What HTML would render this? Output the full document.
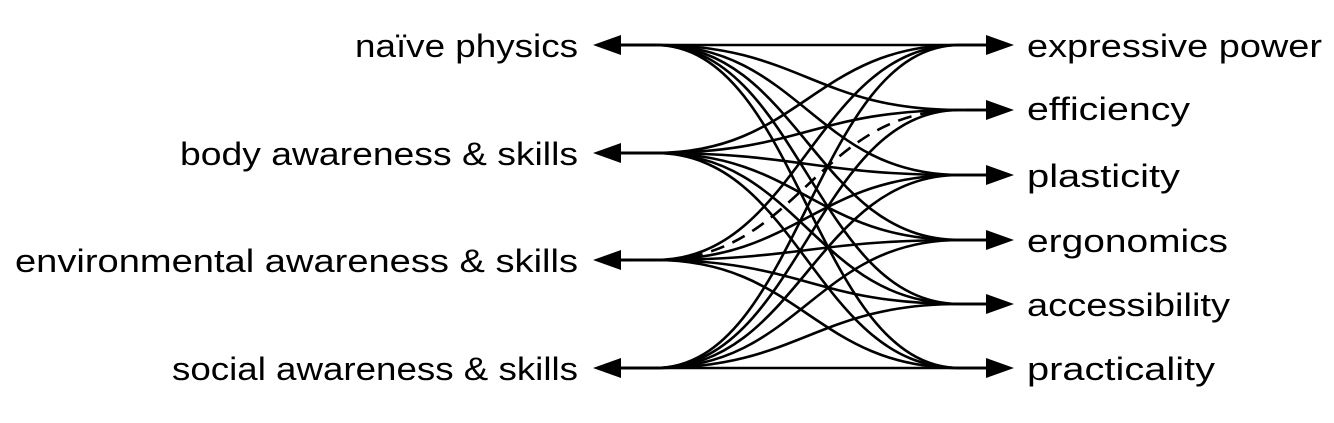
<!DOCTYPE html>
<html><head><meta charset="utf-8"><style>
html,body{margin:0;padding:0;background:#fff;}
svg{display:block;}
text{font-family:"Liberation Sans",sans-serif;font-size:32px;fill:#000;}
</style></head><body>
<svg width="1334" height="423" viewBox="0 0 1334 423">
<defs>
<marker id="a" markerWidth="10" markerHeight="10" refX="0" refY="0" orient="auto" markerUnits="userSpaceOnUse" viewBox="0 -10 30 20"></marker>
</defs>
<g fill="none" stroke="#000" stroke-width="2.6">
<path d="M620,45 H655 C800,45 815,45 960,45 H990"/>
<path d="M620,45 H655 C800,45 815,110 960,110 H990"/>
<path d="M620,45 H655 C800,45 815,175 960,175 H990"/>
<path d="M620,45 H655 C800,45 815,240 960,240 H990"/>
<path d="M620,45 H655 C800,45 815,304 960,304 H990"/>
<path d="M620,45 H655 C800,45 815,368 960,368 H990"/>
<path d="M620,153 H655 C800,153 815,45 960,45 H990"/>
<path d="M620,153 H655 C800,153 815,110 960,110 H990"/>
<path d="M620,153 H655 C800,153 815,175 960,175 H990"/>
<path d="M620,153 H655 C800,153 815,240 960,240 H990"/>
<path d="M620,153 H655 C800,153 815,304 960,304 H990"/>
<path d="M620,153 H655 C800,153 815,368 960,368 H990"/>
<path d="M620,260 H655 C800,260 815,45 960,45 H990"/>
<path d="M620,260 H655 C800,260 815,110 960,110 H990" stroke-dasharray="14,9"/>
<path d="M620,260 H655 C800,260 815,175 960,175 H990"/>
<path d="M620,260 H655 C800,260 815,240 960,240 H990"/>
<path d="M620,260 H655 C800,260 815,304 960,304 H990"/>
<path d="M620,260 H655 C800,260 815,368 960,368 H990"/>
<path d="M620,368 H655 C800,368 815,45 960,45 H990"/>
<path d="M620,368 H655 C800,368 815,110 960,110 H990"/>
<path d="M620,368 H655 C800,368 815,175 960,175 H990"/>
<path d="M620,368 H655 C800,368 815,240 960,240 H990"/>
<path d="M620,368 H655 C800,368 815,304 960,304 H990"/>
<path d="M620,368 H655 C800,368 815,368 960,368 H990"/>
</g>
<g fill="#000">
<polygon points="593,45 621,35 621,55"/>
<polygon points="593,153 621,143 621,163"/>
<polygon points="593,260 621,250 621,270"/>
<polygon points="593,368 621,358 621,378"/>
<polygon points="1014,45 986,35 986,55"/>
<polygon points="1014,110 986,100 986,120"/>
<polygon points="1014,175 986,165 986,185"/>
<polygon points="1014,240 986,230 986,250"/>
<polygon points="1014,304 986,294 986,314"/>
<polygon points="1014,368 986,358 986,378"/>
</g>
<text x="355" y="57" textLength="223" lengthAdjust="spacingAndGlyphs">naïve physics</text>
<text x="180" y="165" textLength="398" lengthAdjust="spacingAndGlyphs">body awareness &amp; skills</text>
<text x="15" y="272" textLength="563" lengthAdjust="spacingAndGlyphs">environmental awareness &amp; skills</text>
<text x="172" y="380" textLength="406" lengthAdjust="spacingAndGlyphs">social awareness &amp; skills</text>
<text x="1027" y="57" textLength="295" lengthAdjust="spacingAndGlyphs">expressive power</text>
<text x="1027" y="120" textLength="163" lengthAdjust="spacingAndGlyphs">efficiency</text>
<text x="1027" y="187" textLength="153" lengthAdjust="spacingAndGlyphs">plasticity</text>
<text x="1027" y="252" textLength="201" lengthAdjust="spacingAndGlyphs">ergonomics</text>
<text x="1027" y="316" textLength="203" lengthAdjust="spacingAndGlyphs">accessibility</text>
<text x="1027" y="380" textLength="188" lengthAdjust="spacingAndGlyphs">practicality</text>
</svg>
</body></html>
